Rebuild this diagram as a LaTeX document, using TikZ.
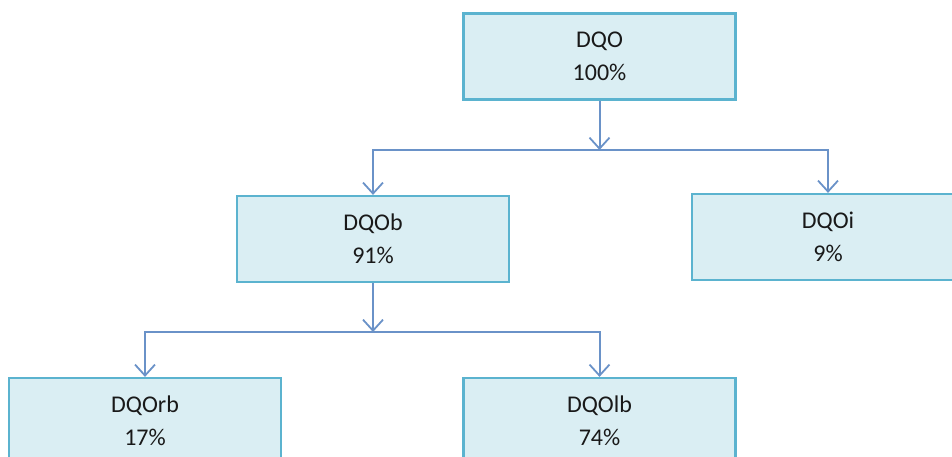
\documentclass[tikz,border=0pt]{standalone}
\usepackage{fontspec}
\setmainfont{Carlito}
\usetikzlibrary{arrows.meta}
\definecolor{boxfill}{HTML}{DAEEF3}
\definecolor{boxline}{HTML}{5BB3CF}
\definecolor{arrowc}{HTML}{6A92C8}
\begin{document}
\begin{tikzpicture}[x=1pt,y=-1pt,
  box/.style={draw=boxline,line width=2.2pt,fill=boxfill,minimum width=272pt,minimum height=86pt,
    align=center,font=\fontsize{24}{33}\selectfont,text=black!90,inner sep=0pt},
  link/.style={draw=arrowc,line width=2pt,-{Straight Barb[length=11pt,width=20pt,line width=1.8pt]}}]
\useasboundingbox (0,0) rectangle (952,457);
\node[box] (dqo) at (599.5,56.5) {DQO\\100\%};
\node[box] (dqob) at (373,239) {DQOb\\91\%};
\node[box] (dqoi) at (828,237) {DQOi\\9\%};
\node[box] (dqorb) at (145,421) {DQOrb\\17\%};
\node[box] (dqolb) at (599.5,421) {DQOlb\\74\%};
\coordinate (j1) at (599.5,150);
\coordinate (j2) at (373,332);
\draw[link] (dqo.south) -- (j1);
\draw[link] (j1) -| (dqob.north);
\draw[link] (j1) -| (dqoi.north);
\draw[link] (dqob.south) -- (j2);
\draw[link] (j2) -| (dqorb.north);
\draw[link] (j2) -| (dqolb.north);
\end{tikzpicture}
\end{document}
